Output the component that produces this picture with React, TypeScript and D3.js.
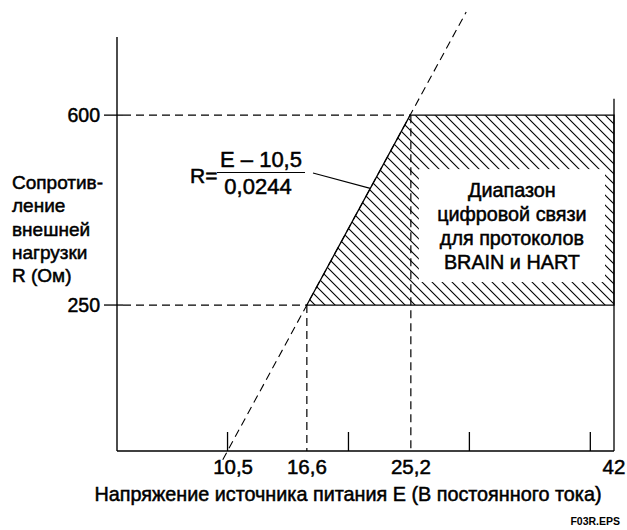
import React, { useRef, useEffect } from 'react';
import * as d3 from 'd3';

// unlabeled ticks on the voltage axis
const xTickValues = [10, 20, 30, 40];
// labeled values on the voltage axis
const xLabelValues = [10.5, 16.6, 25.2, 42];
const xLabels = ['10,5', '16,6', '25,2', '42'];
// load resistance levels
const yLabelValues = [250, 600];
const yLabels = ['250', '600'];
// R = (E - 10.5) / 0.0244
const lineIntercept = 10.5;
const lineSlope = 0.0244;
const lineRange = [-35, 790];
const maxVoltage = 42;

const yTitleLines = ['Сопротив-', 'ление', 'внешней', 'нагрузки', 'R (Ом)'];
const boxLines = ['Диапазон', 'цифровой связи', 'для протоколов', 'BRAIN и HART'];
const xTitle = 'Напряжение источника питания E (В постоянного тока)';

const FONT = '"Liberation Sans", Arial, sans-serif';

const App = () => {
    const svgRef = useRef<SVGSVGElement>(null);

    useEffect(() => {
        drawChart();
    }, []);

    const drawChart = () => {
        const svg = d3.select(svgRef.current);
        svg.selectAll('*').remove();

        const width = 627;
        const height = 530;

        const x = d3.scaleLinear().domain([0.9, maxVoltage]).range([117, 614]);
        const y = d3.scaleLinear().domain([-19, 744]).range([451, 37]);
        const eOf = (r: number) => lineIntercept + lineSlope * r;

        svg.attr('width', width).attr('height', height);

        // hatch pattern
        const pattern = svg.append('defs').append('pattern')
            .attr('id', 'hatch')
            .attr('patternUnits', 'userSpaceOnUse')
            .attr('width', 10)
            .attr('height', 10);
        pattern.append('path')
            .attr('d', 'M-5,5 L5,15 M0,0 L10,10 M5,-5 L15,5')
            .attr('stroke', '#000')
            .attr('stroke-width', 1.1);

        const [rLow, rHigh] = yLabelValues;
        const corners: [number, number][] = [
            [eOf(rLow), rLow],
            [eOf(rHigh), rHigh],
            [maxVoltage, rHigh],
            [maxVoltage, rLow],
        ];

        svg.append('path')
            .attr('d', d3.line<[number, number]>().x(d => x(d[0])).y(d => y(d[1]))(corners) + 'Z')
            .attr('fill', 'url(#hatch)')
            .attr('stroke', '#000')
            .attr('stroke-width', 1.3);

        // white box for the caption
        const boxL = x(xLabelValues[2]) + 8;
        const boxR = x(maxVoltage) - 9;
        const boxT = y(rHigh) + 54;
        const boxB = y(rLow) - 23;
        svg.append('rect')
            .attr('x', boxL).attr('y', boxT)
            .attr('width', boxR - boxL).attr('height', boxB - boxT)
            .attr('fill', '#fff');

        // dashed guides
        const dash = '8,5';
        yLabelValues.forEach((r, i) => {
            svg.append('line')
                .attr('x1', 123).attr('x2', x(i === 0 ? xLabelValues[1] : xLabelValues[2]))
                .attr('y1', y(r)).attr('y2', y(r))
                .attr('stroke', '#000').attr('stroke-width', 1.2)
                .attr('stroke-dasharray', dash);
            svg.append('line')
                .attr('x1', 104).attr('x2', 123)
                .attr('y1', y(r)).attr('y2', y(r))
                .attr('stroke', '#000').attr('stroke-width', 1.3);
        });
        [xLabelValues[1], xLabelValues[2]].forEach((e, i) => {
            svg.append('line')
                .attr('x1', x(e)).attr('x2', x(e))
                .attr('y1', y(yLabelValues[i])).attr('y2', y(-19))
                .attr('stroke', '#000').attr('stroke-width', 1.2)
                .attr('stroke-dasharray', dash);
        });

        // the load line
        svg.append('line')
            .attr('x1', x(eOf(lineRange[0]))).attr('y1', y(lineRange[0]))
            .attr('x2', x(eOf(lineRange[1]))).attr('y2', y(lineRange[1]))
            .attr('stroke', '#000').attr('stroke-width', 1.1)
            .attr('stroke-dasharray', dash);

        // right border
        svg.append('line')
            .attr('x1', x(maxVoltage)).attr('x2', x(maxVoltage))
            .attr('y1', y(630)).attr('y2', y(-19))
            .attr('stroke', '#000').attr('stroke-width', 1.3);

        // axes
        svg.append('line')
            .attr('x1', 117).attr('x2', 117)
            .attr('y1', y(744)).attr('y2', y(-19))
            .attr('stroke', '#000').attr('stroke-width', 1.4);
        svg.append('line')
            .attr('x1', 117).attr('x2', x(maxVoltage))
            .attr('y1', y(-19)).attr('y2', y(-19))
            .attr('stroke', '#000').attr('stroke-width', 1.4);

        const xAxis = svg.append('g')
            .attr('transform', `translate(0,${y(-19)})`)
            .call(d3.axisBottom(x).tickValues(xTickValues).tickSize(-19).tickFormat(() => ''));
        xAxis.select('.domain').remove();
        xAxis.selectAll('line').attr('stroke', '#000').attr('stroke-width', 1.3);

        const txt = (sel: any, size: number) => sel
            .style('font-family', FONT)
            .style('font-size', size + 'px')
            .attr('fill', '#000')
            .attr('stroke', '#000')
            .attr('stroke-width', 0.5);

        // tick labels
        txt(svg.selectAll('.xlab')
            .data(xLabelValues)
            .enter().append('text')
            .attr('x', d => x(d))
            .attr('y', 474)
            .attr('text-anchor', 'middle')
            .text((d, i) => xLabels[i]), 20.5);

        txt(svg.selectAll('.ylab')
            .data(yLabelValues)
            .enter().append('text')
            .attr('x', 100)
            .attr('y', d => y(d))
            .attr('dy', '0.36em')
            .attr('text-anchor', 'end')
            .text((d, i) => yLabels[i]), 19.5);

        // y title
        yTitleLines.forEach((t, i) => {
            txt(svg.append('text')
                .attr('x', 12)
                .attr('y', 189 + i * 23.3)
                .text(t), 19);
        });

        // x title
        txt(svg.append('text')
            .attr('x', 348)
            .attr('y', 501)
            .attr('text-anchor', 'middle')
            .text(xTitle), 19.8);

        // caption in the box
        boxLines.forEach((t, i) => {
            txt(svg.append('text')
                .attr('x', (boxL + boxR) / 2)
                .attr('y', 197 + i * 24)
                .attr('text-anchor', 'middle')
                .text(t), 19.8);
        });

        // formula
        txt(svg.append('text').attr('x', 190).attr('y', 183).text('R='), 21);
        txt(svg.append('text').attr('x', 261).attr('y', 167).attr('text-anchor', 'middle').text('E – 10,5'), 22);
        svg.append('line').attr('x1', 217).attr('x2', 305).attr('y1', 172.5).attr('y2', 172.5)
            .attr('stroke', '#000').attr('stroke-width', 1.1);
        txt(svg.append('text').attr('x', 258).attr('y', 194).attr('text-anchor', 'middle').text('0,0244'), 22);

        // leader from formula to the load line
        const rLead = 465;
        svg.append('line')
            .attr('x1', 313).attr('y1', 173)
            .attr('x2', x(eOf(rLead))).attr('y2', y(rLead))
            .attr('stroke', '#000').attr('stroke-width', 1.1);

        svg.append('text')
            .attr('x', 620)
            .attr('y', 525)
            .attr('text-anchor', 'end')
            .style('font-family', FONT)
            .style('font-size', '10.5px')
            .style('font-weight', 'bold')
            .text('F03R.EPS');
    };

    return (
        <svg ref={svgRef} style={{ position: 'absolute', left: 0, top: 0 }}></svg>
    );
};

export default App;
